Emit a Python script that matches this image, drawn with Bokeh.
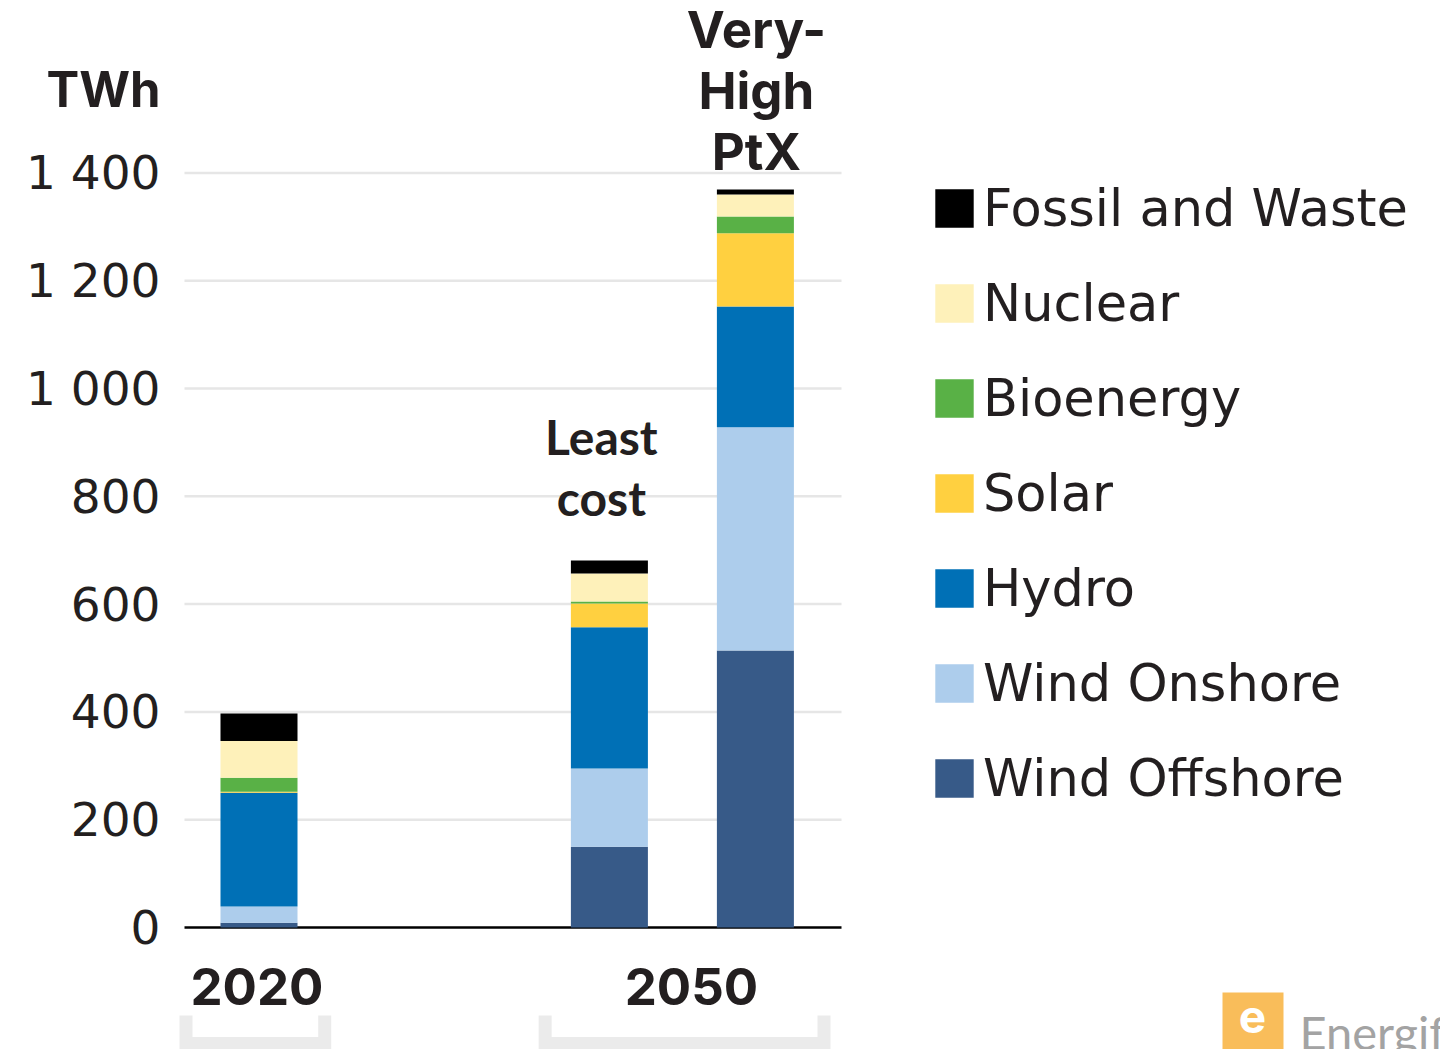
from bokeh.plotting import figure
from bokeh.models import (ColumnDataSource, Range1d, FixedTicker, Legend,
                          LegendItem)
from bokeh.core.properties import value
from bokeh.embed import file_html
from bokeh.resources import INLINE

# ---------------- data ----------------
categories = ["2020", "Least cost", "Very-High PtX"]
groups = ["2020", "2050", "2050"]
series = ["Wind Offshore", "Wind Onshore", "Hydro", "Solar",
          "Bioenergy", "Nuclear", "Fossil and Waste"]
wind_offshore = [9, 150, 514]
wind_onshore = [30, 145, 414]
hydro = [211, 262, 224]
solar = [2, 44, 136]
bioenergy = [26, 4, 31]
nuclear = [68, 52, 41]
fossil_waste = [51, 24, 9]
series_colors = ["#375a88", "#adcdec", "#0070b6", "#ffd040",
                 "#59b146", "#fef1ba", "#000000"]
y_ticks = [0, 200, 400, 600, 800, 1000, 1200, 1400]
y_tick_labels = ["0", "200", "400", "600", "800", "1 000", "1 200", "1 400"]
scenario_lines = {"Least cost": ["Least", "cost"],
                  "Very-High PtX": ["Very-", "High", "PtX"]}
group_names = ["2020", "2050"]
unit_label = "TWh"
logo_text = "Energif"

# ---------------- layout ----------------
TEXT = "#231f20"
W, H = 1440, 1049
PLOT_L, PLOT_R = 184, 841            # canvas px of the bar area
ZERO_Y = 927                         # canvas px of value 0
PX_PER_UNIT = 0.539                  # px per TWh
SLOT = 146                           # px per x unit
FIRST_BAR_PX = 258.5
slot_pos = {"2020": 0.0, "Least cost": 2.4, "Very-High PtX": 3.4}
bar_w = 77 / SLOT
TXT_SHIFT = 19                       # text glyph baseline correction (px)


def px_x(px):
    return (px - FIRST_BAR_PX) / SLOT


def px_y(py):
    return (ZERO_Y - py) / PX_PER_UNIT


xs = [slot_pos[c] for c in categories]

p = figure(width=W, height=H, output_backend="svg", toolbar_location=None,
           x_range=Range1d(px_x(0), px_x(W)), y_range=Range1d(px_y(H), px_y(0)),
           x_axis_location=None, title=None)
p.min_border_left = 0
p.min_border_right = 0
p.min_border_top = 0
p.min_border_bottom = 0
p.outline_line_color = None
p.background_fill_color = "white"
p.border_fill_color = "white"
p.xgrid.visible = False
p.ygrid.visible = False

# grid lines limited to the bar area, and the zero line
grid_src = ColumnDataSource(dict(y=y_ticks[1:]))
p.segment(x0=px_x(PLOT_L), x1=px_x(PLOT_R), y0="y", y1="y", source=grid_src,
          line_color="#e6e6e6", line_width=2.5)
p.segment(x0=px_x(PLOT_L), x1=px_x(PLOT_R), y0=0, y1=0,
          line_color="black", line_width=2.5)

src = ColumnDataSource(dict(
    x=xs, cat=categories,
    **{"Wind Offshore": wind_offshore, "Wind Onshore": wind_onshore,
       "Hydro": hydro, "Solar": solar, "Bioenergy": bioenergy,
       "Nuclear": nuclear, "Fossil and Waste": fossil_waste}))
renderers = p.vbar_stack(series, x="x", width=bar_w, color=series_colors,
                         source=src, line_width=0)

# y axis, pinned at the left edge of the bar area
ax = p.yaxis[0]
ax.fixed_location = px_x(PLOT_L)
ax.ticker = FixedTicker(ticks=y_ticks)
ax.major_label_overrides = {t: l for t, l in zip(y_ticks, y_tick_labels)}
ax.axis_line_color = None
ax.major_tick_line_color = None
ax.minor_tick_line_color = None
ax.major_tick_out = 0
ax.major_tick_in = 0
ax.major_label_standoff = 24
ax.major_label_text_font = "DejaVu Sans"
ax.major_label_text_font_size = "47px"
ax.major_label_text_color = TEXT

# scenario labels above bars
totals = [sum(v) for v in zip(wind_offshore, wind_onshore, hydro, solar,
                              bioenergy, nuclear, fossil_waste)]
LINE_PITCH = 61
first_gap = {"Least cost": 44, "Very-High PtX": 19}
label_font = {"Least cost": "Lato", "Very-High PtX": "Inter"}
label_size = {"Least cost": "48px", "Very-High PtX": "51px"}
label_dx = {"Least cost": -8, "Very-High PtX": 1}
for cat, lines in scenario_lines.items():
    i = categories.index(cat)
    n = len(lines)
    lx, ly, lyo = [], [], []
    for k, line in enumerate(lines):
        lx.append(xs[i])
        ly.append(totals[i])
        lyo.append(-(first_gap[cat] + (n - 1 - k) * LINE_PITCH) - TXT_SHIFT)
    ls = ColumnDataSource(dict(x=lx, y=ly, t=lines, yo=lyo))
    p.text(x="x", y="y", text="t", y_offset="yo", x_offset=label_dx[cat],
           source=ls, text_align="center", text_baseline="alphabetic",
           text_font=value(label_font[cat]), text_font_style="bold",
           text_font_size=label_size[cat], text_color=TEXT)

# group labels and brackets
bracket_pad_l = [0.50, 0.44]
bracket_pad_r = [0.45, 0.47]
gx, gx0, gx1 = [], [], []
for j, g in enumerate(group_names):
    members = [xs[i] for i in range(len(categories)) if groups[i] == g]
    gx.append(sum(members) / len(members))
    gx0.append(min(members) - bracket_pad_l[j])
    gx1.append(max(members) + bracket_pad_r[j])
gsrc = ColumnDataSource(dict(x=gx, t=group_names, y=[0, 0], xo=[-2, 9]))
p.text(x="x", y="y", text="t", x_offset="xo", y_offset=78 - TXT_SHIFT,
       source=gsrc, text_align="center", text_baseline="alphabetic",
       text_font=value("Inter"), text_font_style="bold",
       text_font_size="51px", text_color=TEXT)

b_top, b_bot = px_y(1015), px_y(1043)
p.multi_line(xs=[[a, a, b, b] for a, b in zip(gx0, gx1)],
             ys=[[b_top, b_bot, b_bot, b_top] for _ in gx0],
             line_color="#ebebeb", line_width=13, line_join="miter")

# unit label
p.text(x=[px_x(160)], y=[px_y(108)], text=[unit_label], y_offset=-TXT_SHIFT,
       text_align="right", text_baseline="alphabetic",
       text_font=value("Inter"), text_font_style="bold",
       text_font_size="49px", text_color=TEXT)

# legend
GLYPH = 48          # area legend glyphs are drawn with a 10% inset
ITEM_H = 60
SPACING = 35
items = [LegendItem(label=s, renderers=[r])
         for s, r in zip(series, renderers)][::-1]
legend_h = len(items) * ITEM_H + (len(items) - 1) * SPACING
legend_top = 178
legend = Legend(items=items, location=(930, H - legend_top - legend_h),
                orientation="vertical",
                glyph_width=GLYPH, glyph_height=GLYPH, label_height=ITEM_H,
                label_text_font="DejaVu Sans", label_text_font_size="51px",
                label_text_color=TEXT, label_standoff=5, spacing=SPACING,
                padding=0, margin=0, border_line_color=None,
                background_fill_alpha=0)
p.add_layout(legend)

# logo
p.quad(left=px_x(1222), right=px_x(1283), top=px_y(992), bottom=px_y(H),
       fill_color="#f9bd5a", line_color=None)
p.text(x=[px_x(1252)], y=[px_y(1034)], text=["e"], y_offset=-TXT_SHIFT,
       text_align="center", text_baseline="alphabetic",
       text_font=value("Inter"), text_font_style="bold",
       text_font_size="46px", text_color="white")
p.text(x=[px_x(1299)], y=[px_y(1050)], text=[logo_text], y_offset=-TXT_SHIFT,
       text_align="left", text_baseline="alphabetic",
       text_font=value("Lato"), text_font_size="47px",
       text_color="#a3a3a3")

open("out.html", "w").write(file_html(p, INLINE))
